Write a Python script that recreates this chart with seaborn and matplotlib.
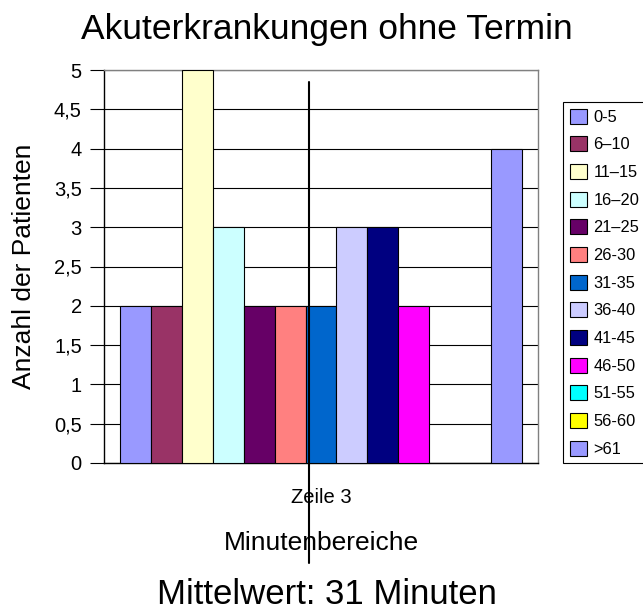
import matplotlib
matplotlib.use('Agg')
import matplotlib.pyplot as plt
import matplotlib.patches as mpatches
from matplotlib.lines import Line2D
import pandas as pd
import seaborn as sns

# data
ranges = ['0-5', '6–10', '11–15', '16–20', '21–25', '26-30', '31-35',
          '36-40', '41-45', '46-50', '51-55', '56-60', '>61']
patients = [2, 2, 5, 3, 2, 2, 2, 3, 3, 2, 0, 0, 4]
colors = ['#9999FF', '#993366', '#FFFFCC', '#CCFFFF', '#660066', '#FF8080',
          '#0066CC', '#CCCCFF', '#000080', '#FF00FF', '#00FFFF', '#FFFF00',
          '#9999FF']
row_label = 'Zeile 3'
y_ticks = [0, 0.5, 1, 1.5, 2, 2.5, 3, 3.5, 4, 4.5, 5]
y_tick_labels = ['0', '0,5', '1', '1,5', '2', '2,5', '3', '3,5', '4', '4,5', '5']

df = pd.DataFrame({'row': row_label, 'range': ranges, 'count': patients})

sns.set_style('white')
plt.rcParams['font.family'] = ['Liberation Sans', 'DejaVu Sans']
plt.rcParams['text.color'] = 'black'
plt.rcParams['axes.labelcolor'] = 'black'

fig = plt.figure(figsize=(6.43, 6.14), dpi=100)
ax = fig.add_axes([104 / 643, 1 - 463 / 614, 434 / 643, 393 / 614])

sns.barplot(data=df, x='row', y='count', hue='range', hue_order=ranges,
            palette=colors, saturation=1, edgecolor='black', linewidth=0.8,
            errorbar=None, legend=False, ax=ax, zorder=3)

ax.set_xlim(-0.4308, 0.4308)
ax.set_ylim(0, 5)
ax.set_yticks(y_ticks)
ax.set_yticklabels(y_tick_labels)
ax.yaxis.grid(True, color='black', linewidth=0.8, zorder=0)
ax.set_axisbelow(True)

ax.tick_params(axis='y', direction='out', length=10, width=0.8,
               pad=6, labelsize=14.5, colors='black', left=True)
ax.tick_params(axis='x', length=0, pad=18, labelsize=14.5, colors='black')

for side in ['top', 'right']:
    ax.spines[side].set_color('#808080')
for side in ['left', 'bottom']:
    ax.spines[side].set_color('black')
for sp in ax.spines.values():
    sp.set_linewidth(1.0)
    sp.set_visible(True)

ax.set_xlabel('Minutenbereiche', fontsize=19, va='center')
ax.xaxis.set_label_coords(0.5, (463 - 543) / 393)
ax.set_ylabel('Anzahl der Patienten', fontsize=19, va='center')
ax.yaxis.set_label_coords((24 - 104) / 434, 0.5)

# legend built by hand so the square swatches match the original
handles = [mpatches.Patch(facecolor=c, edgecolor='black', linewidth=0.8, label=r)
           for c, r in zip(colors, ranges)]
leg = ax.legend(handles=handles, loc='upper left',
                bbox_to_anchor=(563 / 643, 1 - 102 / 614),
                bbox_transform=fig.transFigure, borderaxespad=0,
                fontsize=11.8, handlelength=1.05, handleheight=1.05,
                handletextpad=0.4, labelspacing=0.7, borderpad=0.4,
                fancybox=False, shadow=False, framealpha=1)
leg.get_frame().set_edgecolor('black')
leg.get_frame().set_linewidth(0.8)

fig.text(327 / 643, 1 - 30 / 614, 'Akuterkrankungen ohne Termin',
         ha='center', va='center', fontsize=25.5)
fig.text(327 / 643, 1 - 595 / 614, 'Mittelwert: 31 Minuten',
         ha='center', va='center', fontsize=25)

# the vertical marker line crossing the chart
fig.add_artist(Line2D([309 / 643, 309 / 643], [1 - 82 / 614, 1 - 563 / 614],
                      transform=fig.transFigure, color='black', linewidth=1.5))

fig.savefig('out.png', dpi=100)
